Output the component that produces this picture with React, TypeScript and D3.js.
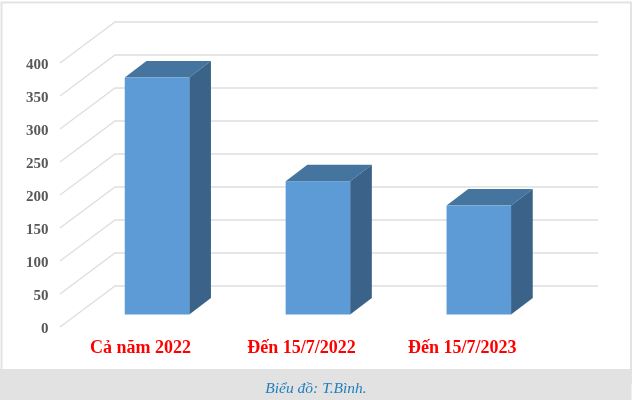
import React from "react";
import * as d3 from "d3";

const categories = ["Cả năm 2022", "Đến 15/7/2022", "Đến 15/7/2023"];
const values = [359, 202, 165];
const ticks = [0, 50, 100, 150, 200, 250, 300, 350, 400];
const caption = "Biểu đồ: T.Bình.";

const W = 636, H = 400;
const unit = d3.scaleLinear().domain([0, 400]).range([0, 264]);
const x = d3.scalePoint<string>().domain(categories).range([157, 478.8]);
const BAR_W = 64.5, DX = 21.7, DY = 16.5;
const FLOOR_FRONT = 327, FLOOR_BACK = 286, BAR_FLOOR = 314.5;
const AX_L = 60, AX_B = 115, AX_R = 598;
const line = d3.line();

export default function App() {
  return (
    <svg width={W} height={H} viewBox={`0 0 ${W} ${H}`} style={{ position: "absolute", left: 0, top: 0, background: "#fff" }}>
      <defs>
        <filter id="soft" x="-5%" y="-5%" width="110%" height="110%">
          <feGaussianBlur stdDeviation="0.45" />
        </filter>
      </defs>
      <g filter="url(#soft)">
        <rect x={1.5} y={2.5} width={629.5} height={380} fill="#fff" stroke="#e3e3e3" strokeWidth={2} />
        <rect x={0} y={369} width={631.5} height={31} fill="#e2e2e2" />
        {ticks.map((t) => {
          const h = unit(t);
          return (
            <g key={t}>
              <path
                d={line([[AX_L, FLOOR_FRONT - h], [AX_B, FLOOR_BACK - h], [AX_R, FLOOR_BACK - h]])!}
                fill="none"
                stroke="#dedede"
                strokeWidth={1.3}
              />
              <text
                x={48.5}
                y={FLOOR_FRONT - h + 6}
                textAnchor="end"
                fontFamily="'Liberation Serif', serif"
                fontWeight={700}
                fontSize={15}
                fill="#595959"
              >
                {t}
              </text>
            </g>
          );
        })}
        {categories.map((c, i) => {
          const cx = x(c)!;
          const l = cx - BAR_W / 2, r = cx + BAR_W / 2;
          const top = BAR_FLOOR - unit(values[i]);
          return (
            <g key={c}>
              <path
                d={line([[l, top], [l + DX, top - DY], [r + DX, top - DY], [r, top]])! + "Z"}
                fill="#44749f"
              />
              <path
                d={line([[r, top], [r + DX, top - DY], [r + DX, BAR_FLOOR - DY], [r, BAR_FLOOR]])! + "Z"}
                fill="#3a6489"
              />
              <rect x={l} y={top} width={BAR_W} height={BAR_FLOOR - top} fill="#5b9bd5" />
              <text
                x={cx - 16.5}
                y={353}
                textAnchor="middle"
                fontFamily="'Liberation Serif', serif"
                fontWeight={700}
                fontSize={18}
                fill="#ff0000"
              >
                {c}
              </text>
            </g>
          );
        })}
        <text
          x={316}
          y={393}
          textAnchor="middle"
          fontFamily="'Liberation Serif', serif"
          fontStyle="italic"
          fontSize={15.5}
          fill="#1f7fbd"
        >
          {caption}
        </text>
      </g>
    </svg>
  );
}
